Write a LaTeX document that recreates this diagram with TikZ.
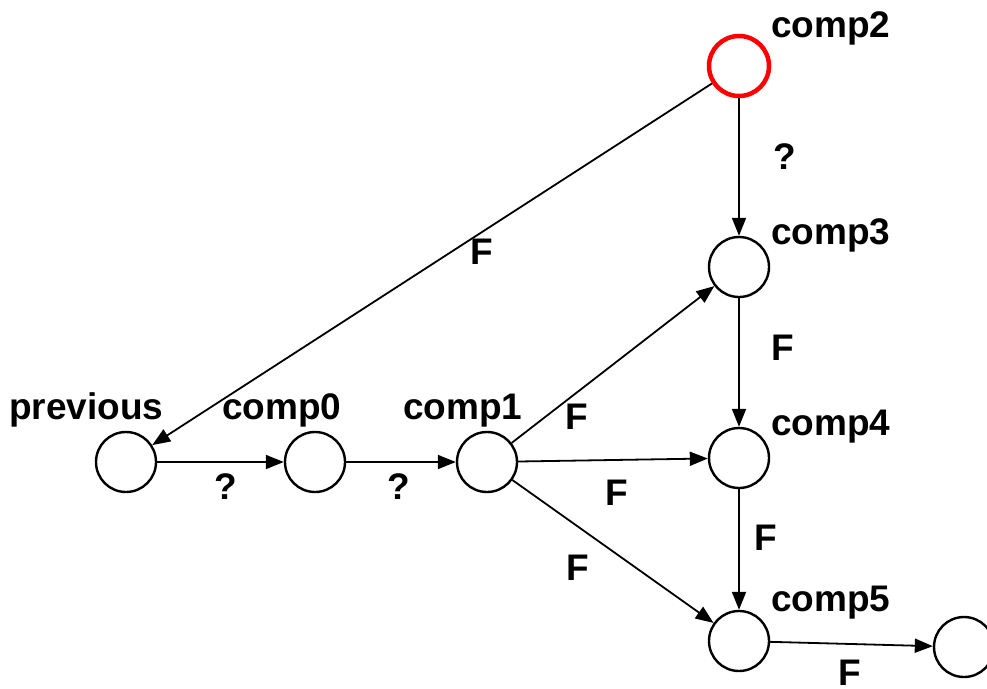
\documentclass[tikz,border=0pt]{standalone}
\usepackage{fontspec}
\setmainfont{Liberation Sans}
\usetikzlibrary{arrows.meta}
\begin{document}
\begin{tikzpicture}[x=1pt,y=-1pt,
  state/.style={circle,draw=black,line width=2.4pt,minimum size=60pt,inner sep=0pt},
  redstate/.style={state,draw=red,line width=4.5pt},
  lbl/.style={font=\fontsize{37}{40}\selectfont\bfseries,inner sep=0pt,anchor=base west},
  elbl/.style={font=\fontsize{37}{40}\selectfont\bfseries,inner sep=0pt},
  conn/.style={line width=1.8pt,-{Triangle[length=18pt,width=14pt]}}]
\useasboundingbox (0,0) rectangle (987,688);
\node[state] (prev) at (126,462) {};
\node[state] (c0) at (315,462) {};
\node[state] (c1) at (487,462) {};
\node[redstate] (c2) at (739,66) {};
\node[state] (c3) at (739,267) {};
\node[state] (c4) at (739,458) {};
\node[state] (c5) at (739,641) {};
\node[state] (c6) at (964,647) {};
\node[lbl] (tprev) at (9,419) {previous};
\node[lbl] (tc0) at (222,419) {comp0};
\node[lbl] (tc1) at (403,419) {comp1};
\node[lbl] (tc2) at (771,37) {comp2};
\node[lbl] (tc3) at (771,244) {comp3};
\node[lbl] (tc4) at (771,435) {comp4};
\node[lbl] (tc5) at (771,611) {comp5};
\draw[conn] (prev) -- (c0);
\draw[conn] (c0) -- (c1);
\draw[conn] (c2) -- (prev);
\draw[conn] (c2) -- (c3);
\draw[conn] (c3) -- (c4);
\draw[conn] (c4) -- (c5);
\draw[conn] (c1) -- (c3);
\draw[conn] (c1) -- (c4);
\draw[conn] (c1) -- (c5);
\draw[conn] (c5) -- (c6);
\node[elbl] (q1) at (226,487) {?};
\node[elbl] (q2) at (399,487) {?};
\node[elbl] (q3) at (785,157) {?};
\node[elbl] (f1) at (482,252) {F};
\node[elbl] (f2) at (783,348) {F};
\node[elbl] (f3) at (577,417) {F};
\node[elbl] (f4) at (617,493) {F};
\node[elbl] (f5) at (766,538) {F};
\node[elbl] (f6) at (578,568) {F};
\node[elbl] (f7) at (850,673) {F};
\end{tikzpicture}
\end{document}
